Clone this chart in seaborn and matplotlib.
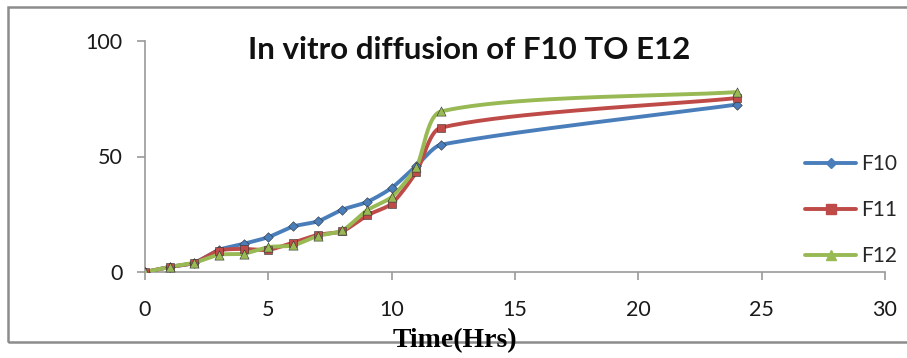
import numpy as np
import pandas as pd
import matplotlib
matplotlib.use("Agg")
import matplotlib.pyplot as plt
import seaborn as sns
from matplotlib.lines import Line2D
from matplotlib.patches import Rectangle

# Sampling times (h) and cumulative % drug diffused for each formulation
hours = [0, 1, 2, 3, 4, 5, 6, 7, 8, 9, 10, 11, 12, 24]
f10 = [0, 2.2, 4.0, 9.6, 12.2, 15.1, 19.7, 21.9, 27.0, 30.3, 36.4, 46.0, 55.1, 72.5]
f11 = [0, 2.2, 4.0, 9.3, 10.0, 9.6, 12.7, 16.1, 17.6, 24.5, 29.6, 43.3, 62.5, 75.3]
f12 = [0, 2.2, 4.0, 7.5, 7.9, 10.8, 11.5, 15.6, 18.0, 26.7, 32.5, 45.5, 69.5, 77.9]
series_names = ["F10", "F11", "F12"]
series_values = [f10, f11, f12]
colors = ["#4A7EBB", "#BE4B48", "#98B954"]
markers = ["D", "s", "^"]
marker_sizes = [24, 36, 44]

title = "In vitro diffusion of F10 TO E12"
x_label = "Time(Hrs)"
x_ticks = [0, 5, 10, 15, 20, 25, 30]
y_ticks = [0, 50, 100]

W, H = 907, 358
X0, X1, Y0, Y1 = 145, 885, 272, 41   # plot area in pixels


def smooth_path(xs, ys, ax_w, ax_h, xr, yr, n=40, tension=0.24):
    """Chord-scaled Bezier smoothing computed in screen space."""
    sx, sy = ax_w / xr, ax_h / yr
    pts = np.column_stack([np.asarray(xs, float) * sx, np.asarray(ys, float) * sy])
    ext = np.vstack([pts[0], pts, pts[-1]])
    out = []
    t = np.linspace(0, 1, n)[:, None]

    def unit(v):
        L = np.hypot(*v)
        return v / L if L > 0 else v

    for i in range(len(pts) - 1):
        p0, p1, p2, p3 = ext[i], ext[i + 1], ext[i + 2], ext[i + 3]
        chord = np.hypot(*(p2 - p1))
        c1 = p1 + unit(p2 - p0) * chord * tension
        c2 = p2 - unit(p3 - p1) * chord * tension
        seg = (1 - t) ** 3 * p1 + 3 * (1 - t) ** 2 * t * c1 + 3 * (1 - t) * t ** 2 * c2 + t ** 3 * p2
        out.append(seg if i == 0 else seg[1:])
    path = np.vstack(out)
    return path[:, 0] / sx, path[:, 1] / sy


sns.set_style("white")
plt.rcParams["font.family"] = ["Lato", "DejaVu Sans"]

fig = plt.figure(figsize=(W / 100, H / 100), dpi=100)
ax = fig.add_axes([X0 / W, 1 - Y0 / H, (X1 - X0) / W, (Y0 - Y1) / H])

for name, vals, col, mk, ms in zip(series_names, series_values, colors, markers, marker_sizes):
    px, py = smooth_path(hours, vals, X1 - X0, Y0 - Y1, 30, 100)
    curve = pd.DataFrame({"x": px, "y": py})
    sns.lineplot(data=curve, x="x", y="y", sort=False, estimator=None,
                 color=col, linewidth=2.8, ax=ax, zorder=3)
    pts = pd.DataFrame({"x": hours, "y": vals})
    sns.scatterplot(data=pts, x="x", y="y", marker=mk, s=ms, color=col,
                    edgecolor="#333333", linewidth=0.4, ax=ax, zorder=4, legend=False)

ax.set_xlim(0, 30)
ax.set_ylim(0, 100)
ax.set_xticks(x_ticks)
ax.set_yticks(y_ticks)
ax.set_xlabel("")
ax.set_ylabel("")
for side in ["top", "right"]:
    ax.spines[side].set_visible(False)
for side in ["left", "bottom"]:
    ax.spines[side].set_color("#999999")
    ax.spines[side].set_linewidth(1.2)
ax.tick_params(axis="both", direction="out", length=6, width=1.2, color="#999999",
               labelsize=15.5, labelcolor="#1A1A1A")
ax.tick_params(axis="x", pad=14, bottom=True)
ax.tick_params(axis="y", pad=10, left=True)
for lab in ax.get_xticklabels() + ax.get_yticklabels():
    lab.set_clip_on(False)

# Title and axis label
fig.text(469 / W, 1 - 50 / H, title, ha="center", va="center",
         fontsize=22.5, fontweight="bold", color="#111111")
fig.text(455 / W, 1 - 341 / H, x_label, ha="center", va="center",
         fontsize=20, fontweight="bold", family=["Liberation Serif", "DejaVu Serif"],
         color="#000000", zorder=6)

# Legend
handles = [Line2D([0], [0], color=c, lw=2.8, marker=m, markersize=5 if m == "D" else 6.5,
                  markeredgecolor=c) for c, m in zip(colors, markers)]
leg = fig.legend(handles, series_names, loc="upper left",
                 bbox_to_anchor=(797 / W, 1 - 146 / H), frameon=False,
                 fontsize=15, handlelength=2.45, handletextpad=0.25,
                 labelspacing=1.25, borderaxespad=0)

# Outer chart border
fig.patches.append(Rectangle((8 / W, 1 - 342 / H), (W + 10) / W, (342 - 7) / H,
                             transform=fig.transFigure, fill=False,
                             edgecolor="#8C8C8C", linewidth=1.8, zorder=0))

fig.savefig("out.png", dpi=100)
